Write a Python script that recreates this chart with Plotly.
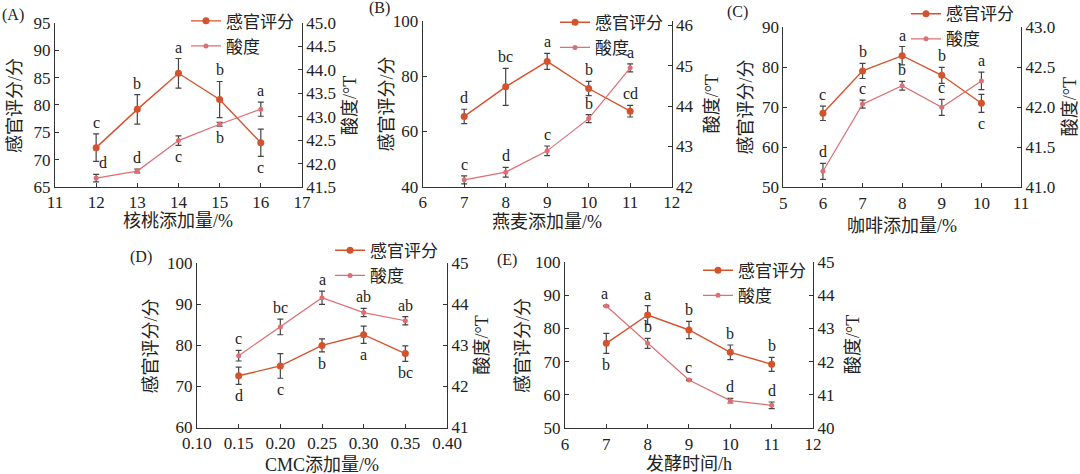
import plotly.graph_objects as go

# ---- data ----
# (A) walnut
a_x = [12, 13, 14, 15, 16]
a_score = [72.2, 79.2, 85.8, 81.0, 73.1]
a_score_err = [2.5, 2.7, 2.7, 3.3, 2.5]
a_acid = [41.69, 41.84, 42.49, 42.84, 43.16]
a_acid_err = [0.08, 0.04, 0.1, 0.04, 0.15]
a_score_lab = ['c', 'b', 'a', 'b', 'c']
a_score_pos = ['up', 'up', 'up', 'up', 'down']
a_acid_lab = ['d', 'd', 'c', 'b', 'a']
a_acid_pos = ['up', 'up', 'down', 'down', 'up']

# (B) oat
b_x = [7, 8, 9, 10, 11]
b_score = [65.4, 76.1, 85.3, 75.5, 67.3]
b_score_err = [2.6, 6.7, 2.9, 2.6, 2.1]
b_acid = [42.17, 42.36, 42.89, 43.69, 44.95]
b_acid_err = [0.1, 0.12, 0.12, 0.1, 0.1]
b_score_lab = ['d', 'bc', 'a', 'b', 'cd']
b_score_pos = ['up', 'up', 'up', 'up', 'up']
b_acid_lab = ['c', 'd', 'c', 'b', 'a']
b_acid_pos = ['up', 'up', 'up', 'up', 'up']

# (C) coffee
c_x = [6, 7, 8, 9, 10]
c_score = [68.5, 79.1, 82.9, 78.0, 71.0]
c_score_err = [1.8, 1.9, 2.3, 2.0, 2.25]
c_acid = [41.20, 42.04, 42.27, 42.0, 42.33]
c_acid_err = [0.1, 0.05, 0.055, 0.1, 0.11]
c_score_lab = ['c', 'b', 'a', 'b', 'c']
c_score_pos = ['up', 'up', 'up', 'up', 'down']
c_acid_lab = ['d', 'c', 'b', 'c', 'a']
c_acid_pos = ['up', 'up', 'up', 'up', 'up']

# (D) CMC
d_x = [0.15, 0.20, 0.25, 0.30, 0.35]
d_score = [72.6, 75.0, 80.0, 82.6, 78.0]
d_score_err = [2.1, 3.0, 1.6, 2.1, 1.9]
d_acid = [42.75, 43.45, 44.16, 43.80, 43.60]
d_acid_err = [0.13, 0.19, 0.16, 0.1, 0.1]
d_score_lab = ['d', 'c', 'b', 'a', 'bc']
d_score_pos = ['down', 'down', 'down', 'down', 'down']
d_acid_lab = ['c', 'bc', 'a', 'ab', 'ab']
d_acid_pos = ['up', 'up', 'up', 'up', 'up']

# (E) fermentation time
e_x = [7, 8, 9, 10, 11]
e_score = [75.5, 84.0, 79.5, 72.8, 69.2]
e_score_err = [3.0, 2.8, 2.6, 2.2, 2.1]
e_acid = [43.67, 42.55, 41.45, 40.83, 40.69]
e_acid_err = [0.02, 0.15, 0.02, 0.07, 0.1]
e_score_lab = ['b', 'a', 'b', 'b', 'b']
e_score_pos = ['down', 'up', 'up', 'up', 'up']
e_acid_lab = ['a', 'b', 'c', 'd', 'd']
e_acid_pos = ['up', 'up', 'up', 'up', 'up']

x_titles = ['核桃添加量/%', '燕麦添加量/%', '咖啡添加量/%', 'CMC添加量/%', '发酵时间/h']
y_title = '感官评分/分'
y2_title = '酸度/°T'
panel_names = ['(A)', '(B)', '(C)', '(D)', '(E)']

SCORE_COLOR = '#D4532D'
ACID_COLOR = '#DD6E72'
ERR_COLOR = '#444444'
TEXT_COLOR = '#222222'
FONT = 'Liberation Serif, Noto Sans CJK SC'

# domains in paper units, title offsets in px (left, right, bottom)
panels = [
    dict(x=a_x, s=a_score, se=a_score_err, a=a_acid, ae=a_acid_err,
         sl=a_score_lab, sp=a_score_pos, al=a_acid_lab, ap=a_acid_pos, ash=[7, 0, 0, 0, 0],
         xdom=[0.0509, 0.2796], ydom=[0.6055, 0.9515],
         xr=[11, 17], xd=1, xf='', yr=[65, 95], yd=5, y2r=[41.5, 45], y2d=0.5, y2f='.1f',
         off=(40, 48, 34), leg=(0.1722, 0.993), lab=(0.0, 0.968)),
    dict(x=b_x, s=b_score, se=b_score_err, a=b_acid, ae=b_acid_err,
         sl=b_score_lab, sp=b_score_pos, al=b_acid_lab, ap=b_acid_pos, ash=[0] * 5,
         xdom=[0.3914, 0.6219], ydom=[0.6061, 0.9563],
         xr=[6, 12], xd=1, xf='', yr=[40, 100], yd=20, y2r=[42, 46.12], y2d=1, y2f='',
         off=(36, 40, 35), leg=(0.5139, 0.99), lab=(0.3398, 0.983)),
    dict(x=c_x, s=c_score, se=c_score_err, a=c_acid, ae=c_acid_err,
         sl=c_score_lab, sp=c_score_pos, al=c_acid_lab, ap=c_acid_pos, ash=[0] * 5,
         xdom=[0.7253, 0.9454], ydom=[0.6049, 0.9424],
         xr=[5, 11], xd=1, xf='', yr=[50, 90], yd=10, y2r=[41, 43], y2d=0.5, y2f='.1f',
         off=(37, 49, 39), leg=(0.8389, 1.008), lab=(0.6713, 0.975)),
    dict(x=d_x, s=d_score, se=d_score_err, a=d_acid, ae=d_acid_err,
         sl=d_score_lab, sp=d_score_pos, al=d_acid_lab, ap=d_acid_pos, ash=[0] * 5,
         xdom=[0.1824, 0.4139], ydom=[0.0981, 0.4445],
         xr=[0.10, 0.40], xd=0.05, xf='.2f', yr=[60, 100], yd=10, y2r=[41, 45], y2d=1, y2f='',
         off=(46, 35, 37), leg=(0.3056, 0.509), lab=(0.1185, 0.458)),
    dict(x=e_x, s=e_score, se=e_score_err, a=e_acid, ae=e_acid_err,
         sl=e_score_lab, sp=e_score_pos, al=e_acid_lab, ap=e_acid_pos, ash=[-2, 0, 0, 0, 0],
         xdom=[0.5231, 0.7528], ydom=[0.0964, 0.4479],
         xr=[6, 12], xd=1, xf='', yr=[50, 100], yd=10, y2r=[40, 45], y2d=1, y2f='',
         off=(42, 40, 36), leg=(0.6463, 0.467), lab=(0.4583, 0.4515)),
]

fig = go.Figure()
annotations = []
layout = {}

axis_common = dict(showgrid=False, zeroline=False, showline=True, linecolor='#333333',
                   linewidth=1, ticks='inside', ticklen=4, tickcolor='#333333',
                   automargin=False,
                   tickfont=dict(family=FONT, size=17, color=TEXT_COLOR))


def add_letters(xs, ys, errs, labels, pos, xref, yref, shifts=None):
    shifts = shifts or [0] * len(xs)
    for xv, yv, ev, t, p, sh in zip(xs, ys, errs, labels, pos, shifts):
        up = p == 'up'
        annotations.append(dict(x=xv, y=yv + ev if up else yv - ev, xref=xref, yref=yref,
                                text=t, showarrow=False, xshift=sh,
                                yanchor='bottom' if up else 'top', yshift=1 if up else -1,
                                font=dict(family=FONT, size=16, color=TEXT_COLOR)))


def add_title(text, x, y, xshift=0, yshift=0, angle=0):
    annotations.append(dict(x=x, y=y, xref='paper', yref='paper', text=text,
                            showarrow=False, xanchor='center', yanchor='middle',
                            xshift=xshift, yshift=yshift, textangle=angle,
                            font=dict(family=FONT, size=18, color=TEXT_COLOR)))


for i, p in enumerate(panels):
    n = i + 1
    xa = 'x' if n == 1 else 'x%d' % n
    ya = 'y' if n == 1 else 'y%d' % (2 * n - 1)
    yb = 'y%d' % (2 * n)
    legname = 'legend' if n == 1 else 'legend%d' % n

    fig.add_trace(go.Scatter(
        x=p['x'], y=p['s'], name='感官评分', mode='lines+markers',
        xaxis=xa, yaxis=ya, legend=legname,
        line=dict(color=SCORE_COLOR, width=1.4),
        marker=dict(color=SCORE_COLOR, size=7),
        error_y=dict(type='data', array=p['se'], color=ERR_COLOR, thickness=1.2, width=3)))
    fig.add_trace(go.Scatter(
        x=p['x'], y=p['a'], name='酸度', mode='lines+markers',
        xaxis=xa, yaxis=yb, legend=legname,
        line=dict(color=ACID_COLOR, width=1.2),
        marker=dict(color=ACID_COLOR, size=5),
        error_y=dict(type='data', array=p['ae'], color=ERR_COLOR, thickness=1.2, width=3)))

    add_letters(p['x'], p['s'], p['se'], p['sl'], p['sp'], xa, ya)
    add_letters(p['x'], p['a'], p['ae'], p['al'], p['ap'], xa, yb, p['ash'])

    xkey = 'xaxis' if n == 1 else 'xaxis%d' % n
    ykey = 'yaxis' if n == 1 else 'yaxis%d' % (2 * n - 1)
    y2key = 'yaxis%d' % (2 * n)
    layout[xkey] = dict(axis_common, domain=p['xdom'], anchor=ya, range=p['xr'],
                        dtick=p['xd'], tick0=p['xr'][0], tickformat=p['xf'])
    layout[ykey] = dict(axis_common, domain=p['ydom'], anchor=xa, range=p['yr'],
                        dtick=p['yd'], tick0=p['yr'][0])
    layout[y2key] = dict(axis_common, domain=p['ydom'], anchor=xa, overlaying=ya,
                         side='right', range=p['y2r'], dtick=p['y2d'], tick0=p['y2r'][0],
                         tickformat=p['y2f'])
    layout[legname] = dict(x=p['leg'][0], y=p['leg'][1], xanchor='left', yanchor='top',
                           bgcolor='rgba(0,0,0,0)', itemwidth=30, tracegroupgap=0,
                           font=dict(family=FONT, size=17, color=TEXT_COLOR))

    ymid = sum(p['ydom']) / 2
    xmid = sum(p['xdom']) / 2
    lo, ro, bo = p['off']
    add_title(y_title, p['xdom'][0], ymid, xshift=-lo, angle=-90)
    add_title(y2_title, p['xdom'][1], ymid, xshift=ro, angle=-90)
    add_title(x_titles[i], xmid, p['ydom'][0], yshift=-bo)

    annotations.append(dict(x=p['lab'][0], y=p['lab'][1], xref='paper', yref='paper',
                            text=panel_names[i], showarrow=False, xanchor='left', yanchor='middle',
                            font=dict(family=FONT, size=16, color=TEXT_COLOR)))

fig.update_layout(**layout)
fig.update_layout(
    width=1080, height=474,
    margin=dict(l=0, r=0, t=0, b=0, autoexpand=False),
    paper_bgcolor='white', plot_bgcolor='white',
    showlegend=True,
    annotations=annotations,
)

# the page body has a default 8px margin; drop it so the figure sits at the window origin
fig.write_html("out.html", config={'displayModeBar': False},
               post_script="document.body.style.margin='0px';")
